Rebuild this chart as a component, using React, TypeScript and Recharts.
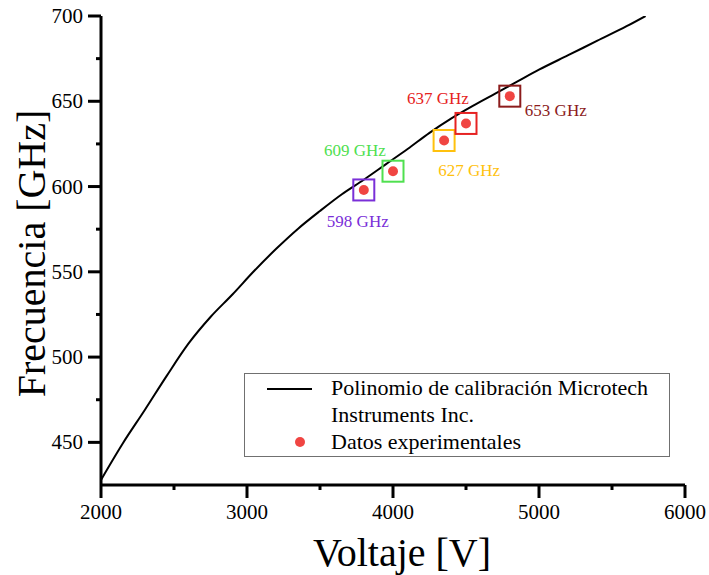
import { ComposedChart, Line, Scatter, XAxis, YAxis, Legend, Label } from 'recharts';

// calibration polynomial (voltage in V, frequency in GHz)
const curveVoltage = [2000, 2150, 2300, 2450, 2600, 2750, 2900, 3050, 3200, 3350, 3500, 3650, 3800, 3950, 4100, 4250, 4400, 4550, 4700, 4850, 5000, 5200, 5400, 5600, 5730];
const curveFreq = [428, 449.5, 469, 489, 508, 523.5, 536.7, 550.6, 563.5, 575.3, 585.7, 595.5, 604, 613, 622, 631.5, 640, 647.5, 654.5, 661.5, 668.5, 677, 685.5, 694, 700];

// experimental points
const pointVoltage = [3800, 4000, 4350, 4500, 4800];
const pointFreq = [598, 609, 627, 637, 653];
const pointLabels = ['598 GHz', '609 GHz', '627 GHz', '637 GHz', '653 GHz'];

// axis ticks
const xTicks = [2000, 2500, 3000, 3500, 4000, 4500, 5000, 5500, 6000];
const xMajor = [2000, 3000, 4000, 5000, 6000];
const yTicks = [450, 475, 500, 525, 550, 575, 600, 625, 650, 675, 700];
const yMajor = [450, 500, 550, 600, 650, 700];

const lineName = 'Polinomio de calibración Microtech';
const lineName2 = 'Instruments Inc.';
const scatterName = 'Datos experimentales';

// styles
const serif = 'Liberation Serif, Tinos, Times New Roman, DejaVu Serif, serif';
const dotColor = '#F04542';
const markColors = ['#7A2FD8', '#4FE04F', '#FFC10E', '#E62222', '#8C1C1C'];
const labelOffsets = [[-6, 32], [-38, -21], [25, 30], [-28, -25], [46, 14]];

const curveData = curveVoltage.map((v, i) => ({ v, f: curveFreq[i] }));
const pointData = pointVoltage.map((v, i) => ({ v, f: pointFreq[i], i }));

const BottomTick = ({ x, y, payload }: any) => {
  const major = xMajor.includes(payload.value);
  return (
    <g>
      <line x1={x} x2={x} y1={y} y2={y + (major ? 13 : 5)} stroke="#000" strokeWidth={3} />
      {major && (
        <text x={x} y={y + 27} textAnchor="middle" dominantBaseline="central" style={{ fontFamily: serif, fontSize: 21 }} fill="#000">
          {payload.value}
        </text>
      )}
    </g>
  );
};

const TopTick = ({ x, y, payload }: any) => {
  const major = xMajor.includes(payload.value);
  return <line x1={x} x2={x} y1={y} y2={y + (major ? 9 : 4)} stroke="#000" strokeWidth={3} />;
};

const LeftTick = ({ x, y, payload }: any) => {
  const major = yMajor.includes(payload.value);
  return (
    <g>
      <line x1={x - (major ? 13 : 5)} x2={x} y1={y} y2={y} stroke="#000" strokeWidth={3} />
      {major && (
        <text x={x - 18} y={y} textAnchor="end" dominantBaseline="central" style={{ fontFamily: serif, fontSize: 21 }} fill="#000">
          {payload.value}
        </text>
      )}
    </g>
  );
};

const RightTick = ({ x, y, payload }: any) => {
  const major = yMajor.includes(payload.value);
  return <line x1={x - (major ? 9 : 4)} x2={x} y1={y} y2={y} stroke="#000" strokeWidth={3} />;
};

const PointMark = (props: any) => {
  const { cx, cy, payload } = props;
  const i = payload.i;
  return (
    <g>
      <rect x={cx - 10.5} y={cy - 10.5} width={21} height={21} fill="none" stroke={markColors[i]} strokeWidth={2} />
      <circle cx={cx} cy={cy} r={5} fill={dotColor} />
      <text
        x={cx + labelOffsets[i][0]}
        y={cy + labelOffsets[i][1]}
        textAnchor="middle"
        dominantBaseline="central"
        style={{ fontFamily: serif, fontSize: 17 }}
        fill={markColors[i]}
      >
        {pointLabels[i]}
      </text>
    </g>
  );
};

const LegendBox = () => (
  <div
    style={{
      position: 'relative',
      width: 426,
      height: 84,
      boxSizing: 'border-box',
      border: '1px solid #707070',
      background: '#fff',
      fontFamily: serif,
      fontSize: 22,
      color: '#000',
    }}
  >
    <svg width={80} height={84} style={{ position: 'absolute', left: 0, top: 0 }}>
      <line x1={22} x2={67} y1={15} y2={15} stroke="#000" strokeWidth={2} />
      <circle cx={55} cy={68} r={5} fill={dotColor} />
    </svg>
    <div style={{ position: 'absolute', left: 86, top: 1, lineHeight: '26px' }}>{lineName}</div>
    <div style={{ position: 'absolute', left: 86, top: 28, lineHeight: '26px' }}>{lineName2}</div>
    <div style={{ position: 'absolute', left: 86, top: 55, lineHeight: '26px' }}>{scatterName}</div>
  </div>
);

const App = () => {
  return (
    <div style={{ position: 'absolute', left: 0, top: 0, background: '#fff', fontFamily: serif }}>
      <ComposedChart width={709} height={575} margin={{ top: 16, right: 24, bottom: 0, left: 0 }}>
        <XAxis
          xAxisId="bottom"
          dataKey="v"
          type="number"
          domain={[2000, 6000]}
          ticks={xTicks}
          interval={0}
          allowDataOverflow
          height={90}
          axisLine={{ stroke: '#000', strokeWidth: 3 }}
          tickLine={false}
          tickSize={0}
          tickMargin={0}
          tick={<BottomTick />}
        >
          <Label
            content={({ viewBox }: any) => (
              <text
                x={viewBox.x + viewBox.width / 2 + 9}
                y={viewBox.y + 81}
                textAnchor="middle"
                style={{ fontFamily: serif, fontSize: 40 }}
                fill="#000"
              >
                Voltaje [V]
              </text>
            )}
          />
        </XAxis>
        <XAxis
          xAxisId="top"
          orientation="top"
          dataKey="v"
          type="number"
          domain={[2000, 6000]}
          ticks={xTicks}
          interval={0}
          allowDataOverflow
          height={0}
          axisLine={{ stroke: '#000', strokeWidth: 3 }}
          tickLine={false}
          tickSize={0}
          tickMargin={0}
          tick={<TopTick />}
        />
        <YAxis
          yAxisId="left"
          dataKey="f"
          type="number"
          domain={[425, 700]}
          ticks={yTicks}
          interval={0}
          allowDataOverflow
          width={101}
          axisLine={{ stroke: '#000', strokeWidth: 3 }}
          tickLine={false}
          tickSize={0}
          tickMargin={0}
          tick={<LeftTick />}
        >
          <Label
            content={({ viewBox }: any) => {
              const cx = viewBox.x + 31;
              const cy = viewBox.y + viewBox.height / 2 + 3;
              return (
                <text
                  x={cx}
                  y={cy}
                  transform={`rotate(-90 ${cx} ${cy})`}
                  textAnchor="middle"
                  dominantBaseline="central"
                  style={{ fontFamily: serif, fontSize: 40 }}
                  fill="#000"
                >
                  Frecuencia [GHz]
                </text>
              );
            }}
          />
        </YAxis>
        <YAxis
          yAxisId="right"
          orientation="right"
          dataKey="f"
          type="number"
          domain={[425, 700]}
          ticks={yTicks}
          interval={0}
          allowDataOverflow
          width={0}
          axisLine={{ stroke: '#000', strokeWidth: 3 }}
          tickLine={false}
          tickSize={0}
          tickMargin={0}
          tick={<RightTick />}
        />
        <Legend
          layout="horizontal"
          verticalAlign="middle"
          align="center"
          wrapperStyle={{ left: 244, top: 373, width: 426, height: 84 }}
          content={<LegendBox />}
        />
        <Line
          xAxisId="bottom"
          yAxisId="left"
          data={curveData}
          dataKey="f"
          name={lineName}
          type="monotone"
          stroke="#000"
          strokeWidth={2}
          dot={false}
          activeDot={false}
          isAnimationActive={false}
        />
        <Scatter
          xAxisId="bottom"
          yAxisId="left"
          data={pointData}
          dataKey="f"
          name={scatterName}
          fill={dotColor}
          shape={<PointMark />}
          isAnimationActive={false}
        />
      </ComposedChart>
    </div>
  );
};

export default App;
